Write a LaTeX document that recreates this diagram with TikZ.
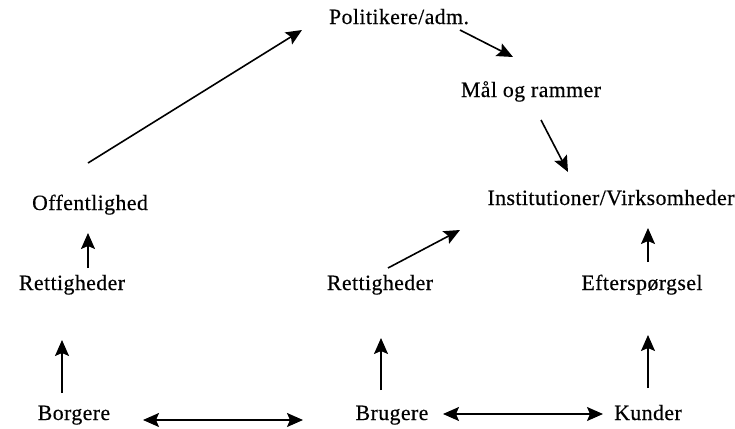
\documentclass[tikz,border=0pt]{standalone}
\usepackage{fontspec}
\setmainfont{Liberation Serif}[LetterSpace=2, FakeBold=0.4]
\usetikzlibrary{arrows.meta, calc}

\begin{document}
\begin{tikzpicture}[
    x = 0.5pt,
    y = -0.5pt,
    line width = 0.8pt,
    >={Stealth[length=8pt, width=7pt, inset=1.5pt]},
    ]

    \tikzstyle{every node}=[
    anchor = base,
    font = \fontsize{10.9}{13}\selectfont,
    ]

    \useasboundingbox (0,0) rectangle (735,429);

    \node (pol) at (399,24) {Politikere/adm.};
    \node (maal) at (531,97) {Mål og rammer};
    \node (inst) at (611,205) {Institutioner/Virksomheder};
    \node (off) at (90,210) {Offentlighed};
    \node (retL) at (72,290) {Rettigheder};
    \node (retM) at (380,290) {Rettigheder};
    \node (eft) at (642,290) {Efterspørgsel};
    \node (borg) at (74,420) {Borgere};
    \node (brug) at (392,420) {Brugere};
    \node (kund) at (648,420) {Kunder};

    \path[->] ($(off.base)+(-2,-47)$) edge ($(pol.base)+(-97,6)$);
    \path[->] ($(pol.base)+(61,6)$) edge ($(maal.base)+(-18,-40)$);
    \path[->] ($(maal.base)+(10,23)$) edge ($(inst.base)+(-43,-33)$);
    \path[->] ($(retL.base)+(16,-22)$) edge ($(off.base)+(-2,23)$);
    \path[->] ($(borg.base)+(-12,-27)$) edge ($(retL.base)+(-10,50)$);
    \path[<->] ($(borg.base)+(69,0)$) edge ($(brug.base)+(-89,0)$);
    \path[->] ($(retM.base)+(8,-22)$) edge ($(inst.base)+(-151,25)$);
    \path[->] ($(brug.base)+(-11,-30)$) edge ($(retM.base)+(1,48)$);
    \path[<->] ($(brug.base)+(51,-6)$) edge ($(kund.base)+(-45,-6)$);
    \path[->] ($(kund.base)+(0,-32)$) edge ($(eft.base)+(6,45)$);
    \path[->] ($(eft.base)+(6,-28)$) edge ($(inst.base)+(37,23)$);
  \end{tikzpicture}
\end{document}
